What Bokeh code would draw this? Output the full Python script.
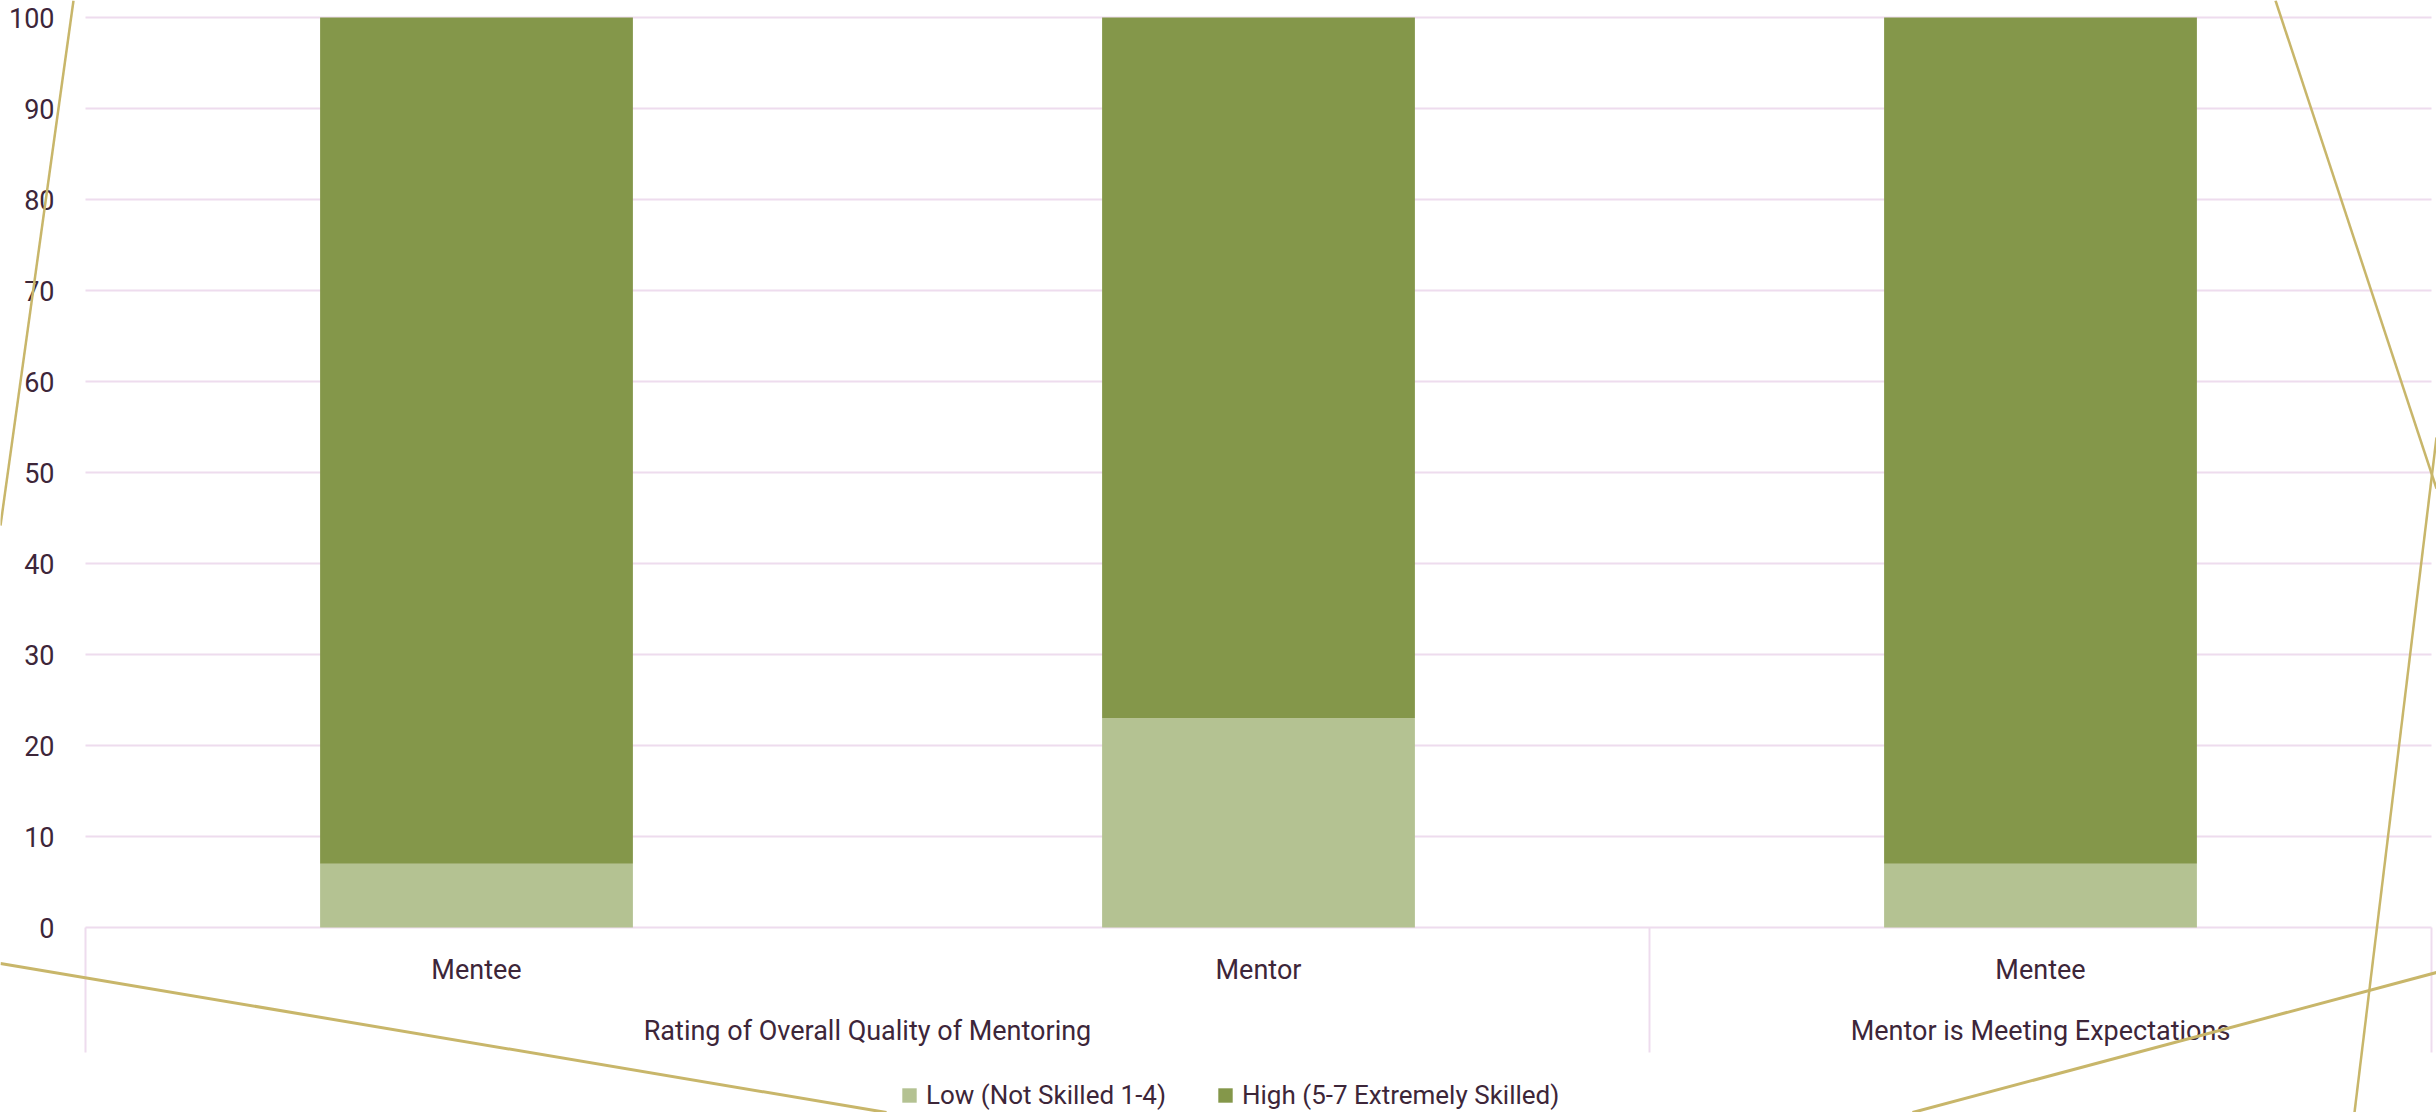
from bokeh.plotting import figure
from bokeh.models import Range1d, Legend, LegendItem, ColumnDataSource
from bokeh.core.properties import value
from bokeh.embed import file_html
from bokeh.resources import INLINE

# ---- data ----
groups = ["Rating of Overall Quality of Mentoring",
          "Rating of Overall Quality of Mentoring",
          "Mentor is Meeting Expectations"]
roles = ["Mentee", "Mentor", "Mentee"]
low_values = [7, 23, 7]
high_values = [93, 77, 93]
series_names = ["Low (Not Skilled 1-4)", "High (5-7 Extremely Skilled)"]
y_ticks = [0, 10, 20, 30, 40, 50, 60, 70, 80, 90, 100]

# ---- style ----
FONT = value("Roboto")
TEXT = "#3D2639"
GRID = "#EEDCEE"
GOLD = "#C8B66A"
LOW_C = "#B4C292"
HIGH_C = "#84974A"
FS = "27px"

# layout in canvas pixels
W, H = 2436, 1112
L, R = 85, 5          # plot area left / right margins
TOP, BASE = 17, 927   # y of 100 and of 0
n = len(roles)
cat_px = (W - L - R) / n
y_px = (BASE - TOP) / 100.0

def cx(px):   # canvas x -> data x
    return (px - L) / cat_px

def cy(py):   # canvas y -> data y
    return (BASE - py) / y_px

p = figure(width=W, height=H, output_backend="svg", toolbar_location=None,
           x_range=Range1d(cx(0), cx(W)), y_range=Range1d(cy(H), cy(0)),
           x_axis_location=None, y_axis_location=None, min_border=0)
p.outline_line_color = None
p.background_fill_color = "white"
p.border_fill_color = "white"
p.xgrid.grid_line_color = None
p.ygrid.grid_line_color = None

# gridlines (value axis)
p.segment(x0=[0] * len(y_ticks), x1=[n] * len(y_ticks), y0=y_ticks, y1=y_ticks,
          line_color=GRID, line_width=2)

# category separators below the baseline
bounds = [0] + [i for i in range(1, n) if groups[i] != groups[i - 1]] + [n]
p.segment(x0=bounds, x1=bounds, y0=[0] * len(bounds), y1=[cy(1052)] * len(bounds),
          line_color=GRID, line_width=2)

# stacked bars
xpos = [i + 0.5 for i in range(n)]
source = ColumnDataSource(dict(x=xpos, low=low_values, high=high_values))
rs = p.vbar_stack(["low", "high"], x="x", width=0.4, source=source,
                  color=[LOW_C, HIGH_C], line_color=None)

# value-axis tick labels
p.text(x=[cx(54)] * len(y_ticks), y=y_ticks, text=[str(t) for t in y_ticks],
       text_align="right", text_baseline="middle", text_font=FONT,
       text_font_size=FS, text_color=TEXT)

# category labels
p.text(x=xpos, y=[cy(969)] * n, text=roles, text_align="center", text_baseline="middle",
       text_font=FONT, text_font_size=FS, text_color=TEXT)
group_names, group_x = [], []
for g in dict.fromkeys(groups):
    idx = [xpos[i] for i in range(n) if groups[i] == g]
    group_names.append(g)
    group_x.append(sum(idx) / len(idx))
p.text(x=group_x, y=[cy(1030)] * len(group_x), text=group_names, text_align="center",
       text_baseline="middle", text_font=FONT, text_font_size=FS, text_color=TEXT)

# decorative gold lines (canvas px)
deco = [((73, 0), (0, 525), 2.5), ((0, 963), (886, 1112), 3),
        ((1912, 1112), (2436, 972), 3), ((2275, 0), (2436, 488), 2.5),
        ((2354, 1112), (2436, 437), 2.5)]
for (ax, ay), (bx, by), lw in deco:
    p.segment(x0=[cx(ax)], y0=[cy(ay)], x1=[cx(bx)], y1=[cy(by)],
              line_color=GOLD, line_width=lw)

# legend
legend = Legend(items=[LegendItem(label=series_names[0], renderers=[rs[0]]),
                       LegendItem(label=series_names[1], renderers=[rs[1]])],
                orientation="horizontal", location=(900, 2),
                border_line_color=None, background_fill_alpha=0,
                label_text_font="Roboto", label_text_font_size="26px", label_text_color=TEXT,
                glyph_width=18, glyph_height=18, label_standoff=8, spacing=50,
                padding=0, margin=0)
p.add_layout(legend, "center")

open("out.html", "w").write(file_html(p, INLINE))
